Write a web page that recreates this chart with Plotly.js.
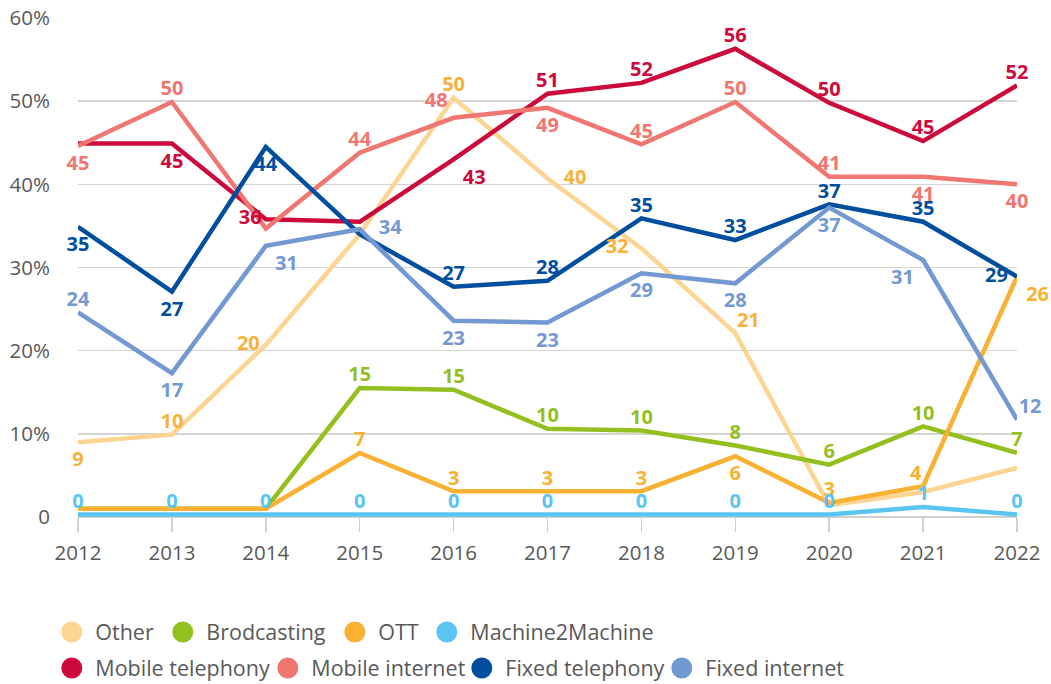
<!DOCTYPE html>
<html>
<head>
<meta charset="utf-8">
<script src="https://cdn.plot.ly/plotly-3.0.1.min.js"></script>
<style>html,body{margin:0;padding:0;background:#fff;}#chart{width:1051px;height:684px;}</style>
</head>
<body>
<div id="chart"></div>
<script>
const years = [2012, 2013, 2014, 2015, 2016, 2017, 2018, 2019, 2020, 2021, 2022];

const other        = [9.0, 9.9, 20.7, 34.0, 50.4, 40.7, 32.3, 22.1, 1.4, 3.0, 5.9];
const brodcasting  = [1.0, 1.0, 1.0, 15.5, 15.3, 10.6, 10.4, 8.6, 6.3, 10.9, 7.7];
const ott          = [1.0, 1.0, 1.0, 7.7, 3.1, 3.1, 3.1, 7.3, 1.7, 3.7, 28.9];
const m2m          = [0.3, 0.3, 0.3, 0.3, 0.3, 0.3, 0.3, 0.3, 0.3, 1.2, 0.3];
const mobileTel    = [44.9, 44.9, 35.8, 35.5, 43.0, 50.9, 52.2, 56.3, 49.8, 45.2, 51.9];
const mobileInt    = [44.6, 49.9, 34.7, 43.8, 48.0, 49.2, 44.8, 49.9, 40.9, 40.9, 40.0];
const fixedTel     = [34.9, 27.1, 44.5, 34.0, 27.7, 28.4, 35.9, 33.3, 37.6, 35.5, 28.9];
const fixedInt     = [24.6, 17.3, 32.6, 34.6, 23.6, 23.4, 29.3, 28.1, 37.2, 30.9, 11.7];

// data labels as printed on the chart (null = no label)
const otherLbl     = [9, 10, 20, null, 50, 40, 32, 21, null, null, null];
const brodLbl      = [null, null, null, 15, 15, 10, 10, 8, 6, 10, 7];
const ottLbl       = [null, null, null, 7, 3, 3, 3, 6, 3, 4, 26];
const m2mLbl       = [0, 0, 0, 0, 0, 0, 0, 0, 0, 1, 0];
const mobileTelLbl = [null, 45, 36, null, 43, 51, 52, 56, 50, 45, 52];
const mobileIntLbl = [45, 50, null, 44, 48, 49, 45, 50, 41, 41, 40];
const fixedTelLbl  = [35, 27, 44, null, 27, 28, 35, 33, 37, 35, 29];
const fixedIntLbl  = [24, 17, 31, 34, 23, 23, 29, 28, 37, 31, 12];

const yTickVals = [0, 10, 20, 30, 40, 50, 60];
const yTickText = ['0', '10%', '20%', '30%', '40%', '50%', '60%'];

const C = {
  other: '#fdd491', otherTxt: '#f8b23c',
  brod: '#93c01f', ott: '#f8b133', m2m: '#5bc5f2',
  mobTel: '#cc0a3b', mobInt: '#ef7671', fixTel: '#004f9e', fixInt: '#7299d1'
};

const FONT = '"Open Sans", "Noto Sans", sans-serif';
const TC = 'top center', BC = 'bottom center', ML = 'middle left', MR = 'middle right',
      TL = 'top left', TR = 'top right', BR = 'bottom right', BL = 'bottom left';

// pos: label placement; gap: per-point spacing overrides; lx/ly: legend symbol centre (px)
const series = [
  {name: 'Other', y: other, lbl: otherLbl, color: C.other, tcolor: C.otherTxt,
   pos: [BC, TC, ML, TC, TC, MR, ML, TR, TC, TC, TC], gap: {2: 8, 5: 24, 6: 19}, lx: 73, ly: 632},
  {name: 'Brodcasting', y: brodcasting, lbl: brodLbl, color: C.brod, tcolor: C.brod,
   pos: Array(11).fill(TC), gap: {}, lx: 184, ly: 632},
  {name: 'OTT', y: ott, lbl: ottLbl, color: C.ott, tcolor: C.ott,
   pos: [TC, TC, TC, TC, TC, TC, TC, BC, TC, TL, BR], gap: {}, lx: 356, ly: 632},
  {name: 'Machine2Machine', y: m2m, lbl: m2mLbl, color: C.m2m, tcolor: C.m2m,
   pos: Array(11).fill(TC), gap: {}, lx: 448, ly: 632},
  {name: 'Mobile telephony', y: mobileTel, lbl: mobileTelLbl, color: C.mobTel, tcolor: C.mobTel,
   pos: [TC, BC, ML, TC, BR, TC, TC, TC, TC, TC, TC], gap: {2: 5}, lx: 73, ly: 668},
  {name: 'Mobile internet', y: mobileInt, lbl: mobileIntLbl, color: C.mobInt, tcolor: C.mobInt,
   pos: [BC, TC, TC, TC, TL, BC, TC, TC, TC, BC, BC], gap: {4: 8}, lx: 289, ly: 668},
  {name: 'Fixed telephony', y: fixedTel, lbl: fixedTelLbl, color: C.fixTel, tcolor: C.fixTel,
   pos: [BC, BC, BC, TC, TC, TC, TC, TC, TC, TC, ML], gap: {10: 13}, lx: 483, ly: 668},
  {name: 'Fixed internet', y: fixedInt, lbl: fixedIntLbl, color: C.fixInt, tcolor: C.fixInt,
   pos: [TC, BC, BR, MR, BC, BC, BC, BC, BC, BL, TR], gap: {3: 29}, lx: 683, ly: 668}
];

// invisible marker size controls how far a label sits from its point
function padFor(p) {
  if (p.indexOf('top') === 0) return 1;
  if (p.indexOf('bottom') === 0) return 13;
  return 8;
}

const traces = [];
series.forEach(s => traces.push({
  type: 'scatter', mode: 'lines', x: years, y: s.y, name: s.name,
  line: {color: s.color, width: 4.5}, showlegend: false, hoverinfo: 'x+y+name'
}));
series.forEach(s => traces.push({
  type: 'scatter', mode: 'markers+text', x: years, y: s.y,
  text: s.lbl.map(v => v === null ? '' : String(v)),
  textposition: s.pos,
  textfont: {family: FONT, size: 20, color: s.tcolor, weight: 'bold'},
  marker: {size: s.pos.map((p, i) => (s.gap[i] !== undefined ? s.gap[i] : padFor(p))),
           opacity: 0, color: s.color},
  showlegend: false, hoverinfo: 'skip', cliponaxis: false
}));

const layout = {
  width: 1051, height: 684,
  margin: {l: 78, r: 34, t: 18, b: 167},
  paper_bgcolor: '#ffffff', plot_bgcolor: '#ffffff',
  font: {family: FONT, color: '#595959', size: 20},
  showlegend: true,
  xaxis: {
    range: [2012, 2022], tickvals: years, ticktext: years.map(String),
    showgrid: false, zeroline: false, showline: false,
    ticks: 'outside', ticklen: 14, tickwidth: 1.5, tickcolor: '#cfcfcf',
    ticklabelstandoff: 3,
    tickfont: {family: FONT, size: 20.5, color: '#595959'}, fixedrange: true
  },
  yaxis: {
    range: [0, 60], tickvals: yTickVals, ticktext: yTickText,
    showgrid: true, gridcolor: '#d4d4d4', gridwidth: 1.5,
    zeroline: true, zerolinecolor: '#cfcfcf', zerolinewidth: 1.5,
    showline: false, ticks: '', ticklabelstandoff: 27,
    tickfont: {family: FONT, size: 20.5, color: '#595959'}, fixedrange: true
  }
};

// one legend per entry so that each sits exactly where the reference places it
series.forEach((s, i) => {
  const key = i === 0 ? 'legend' : 'legend' + (i + 1);
  traces.push({
    type: 'scatter', mode: 'markers', x: [null], y: [null], name: s.name,
    marker: {size: 16, color: s.color, symbol: 'circle', line: {color: s.color, width: 5}},
    legend: key, showlegend: true, hoverinfo: 'skip'
  });
  layout[key] = {
    orientation: 'h', xref: 'container', yref: 'container',
    xanchor: 'left', yanchor: 'middle',
    x: (s.lx - 24.7) / 1051, y: 1 - s.ly / 684,
    font: {family: FONT, size: 21.5, color: '#595959'},
    bgcolor: 'rgba(0,0,0,0)', itemclick: false, itemdoubleclick: false,
    itemwidth: 37
  };
});

Plotly.newPlot('chart', traces, layout, {displayModeBar: false, staticPlot: true});
</script>
</body>
</html>
